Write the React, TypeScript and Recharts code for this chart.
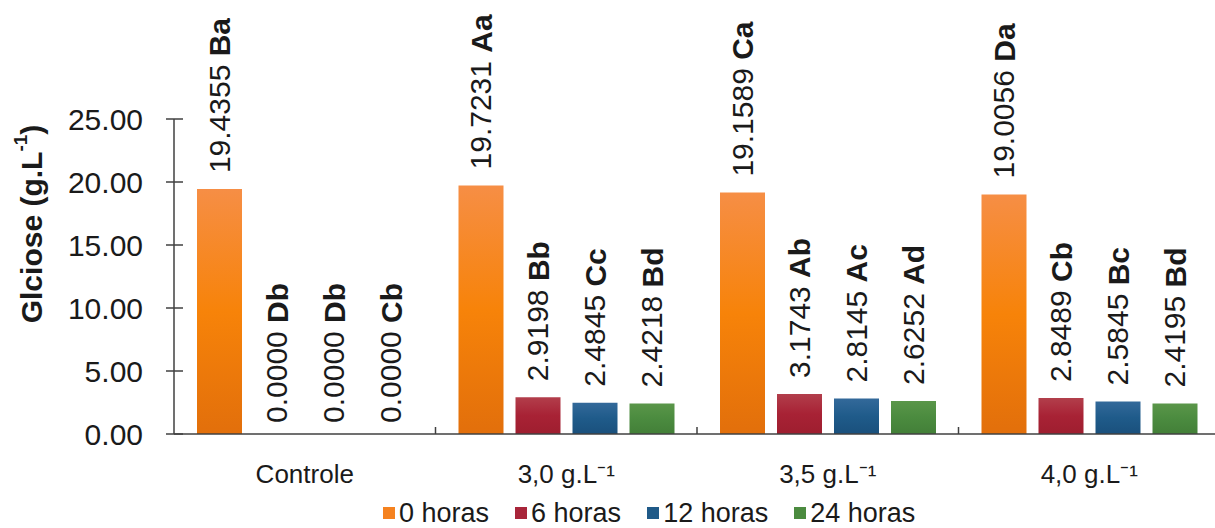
import React from 'react';
import { BarChart, Bar, XAxis, YAxis, Legend, LabelList, Cell } from 'recharts';

const categories = ['Controle', '3,0 g.L⁻¹', '3,5 g.L⁻¹', '4,0 g.L⁻¹'];
const horas0 = [19.4355, 19.7231, 19.1589, 19.0056];
const horas6 = [0, 2.9198, 3.1743, 2.8489];
const horas12 = [0, 2.4845, 2.8145, 2.5845];
const horas24 = [0, 2.4218, 2.6252, 2.4195];
const letras0 = ['Ba', 'Aa', 'Ca', 'Da'];
const letras6 = ['Db', 'Bb', 'Ab', 'Cb'];
const letras12 = ['Db', 'Cc', 'Ac', 'Bc'];
const letras24 = ['Cb', 'Bd', 'Ad', 'Bd'];
const yTicks = [0, 5, 10, 15, 20, 25];

const FONT = '"Liberation Sans", Arial, sans-serif';
const TEXT = '#1a1a1a';
const AXIS = '#404040';
const W = 1220;
const H = 528;
const Y_AXIS_W = 174;
const PLOT_W = W - Y_AXIS_W;

const series = [
  { key: 'h0', name: '0 horas', values: horas0, letters: letras0, fill: 'url(#gOrange)', swatch: '#F5821F' },
  { key: 'h6', name: '6 horas', values: horas6, letters: letras6, fill: 'url(#gRed)', swatch: '#A8253A' },
  { key: 'h12', name: '12 horas', values: horas12, letters: letras12, fill: 'url(#gBlue)', swatch: '#1F5A88' },
  { key: 'h24', name: '24 horas', values: horas24, letters: letras24, fill: 'url(#gGreen)', swatch: '#4B8B3F' },
];

const data = categories.map((name, i) => {
  const row: any = { name };
  series.forEach((s) => {
    row[s.key] = s.values[i];
    row[s.key + 'L'] = s.letters[i];
  });
  return row;
});

const BarLabel = (props: any) => {
  const { x, y, width, value } = props;
  const [v, letters] = value as [number, string];
  const cx = x + width / 2;
  const gap = v > 0 ? 16 : 10;
  const ty = y - gap;
  return (
    <text
      x={cx}
      y={ty}
      transform={`rotate(-90, ${cx}, ${ty})`}
      textAnchor="start"
      dominantBaseline="central"
      fontFamily={FONT}
      fontSize={30}
      fill={TEXT}
    >
      {Number(v).toFixed(4)} <tspan fontWeight="bold">{letters}</tspan>
    </text>
  );
};

const XTick = (props: any) => {
  const { x, y, payload, index } = props;
  const bw = PLOT_W / categories.length;
  const bx = x + bw / 2;
  return (
    <g>
      {index < categories.length - 1 && (
        <line x1={bx} x2={bx} y1={y} y2={y - 7} stroke={AXIS} strokeWidth={1.5} />
      )}
      <text x={x} y={y + 40} textAnchor="middle" dominantBaseline="central" fontFamily={FONT} fontSize={26} fill={TEXT}>
        {payload.value}
      </text>
    </g>
  );
};

const YTick = (props: any) => {
  const { x, y, payload } = props;
  const ax = x + 14;
  return (
    <g>
      <line x1={ax - 8} x2={ax + 9} y1={y} y2={y} stroke={AXIS} strokeWidth={1.5} />
      <text x={ax - 31} y={y} textAnchor="end" dominantBaseline="central" fontFamily={FONT} fontSize={30} fill={TEXT}>
        {Number(payload.value).toFixed(2)}
      </text>
    </g>
  );
};

const YLabel = () => (
  <text
    x={31}
    y={224}
    transform="rotate(-90, 31, 224)"
    textAnchor="middle"
    dominantBaseline="central"
    fontFamily={FONT}
    fontSize={30}
    fontWeight="bold"
    fill={TEXT}
  >
    Glciose (g.L<tspan fontSize={19} dy={-11}>-1</tspan>
    <tspan dy={11}>)</tspan>
  </text>
);

const LegendContent = () => (
  <div style={{ display: 'flex', height: 30, alignItems: 'center', fontFamily: FONT, fontSize: 27, color: TEXT }}>
    {series.map((s) => (
      <div key={s.key} style={{ display: 'flex', alignItems: 'center', marginRight: 26 }}>
        <span style={{ width: 12, height: 12, background: s.swatch, marginRight: 4, display: 'inline-block' }} />
        <span>{s.name}</span>
      </div>
    ))}
  </div>
);

export default function App() {
  return (
    <div style={{ position: 'absolute', left: 0, top: 0, width: 1215, height: H, overflow: 'hidden', background: '#fff' }}>
      <BarChart
        width={W}
        height={H}
        data={data}
        margin={{ top: 119, right: 0, bottom: 4, left: 0 }}
        barCategoryGap={23}
        barGap={12}
      >
        <defs>
          <linearGradient id="gOrange" x1="0" y1="0" x2="0" y2="1">
            <stop offset="0%" stopColor="#F68E45" />
            <stop offset="50%" stopColor="#F78309" />
            <stop offset="100%" stopColor="#E26F0B" />
          </linearGradient>
          <linearGradient id="gRed" x1="0" y1="0" x2="0" y2="1">
            <stop offset="0%" stopColor="#B23E4B" />
            <stop offset="50%" stopColor="#A82235" />
            <stop offset="100%" stopColor="#9E1E2F" />
          </linearGradient>
          <linearGradient id="gBlue" x1="0" y1="0" x2="0" y2="1">
            <stop offset="0%" stopColor="#33699A" />
            <stop offset="50%" stopColor="#1F5B8A" />
            <stop offset="100%" stopColor="#1A507C" />
          </linearGradient>
          <linearGradient id="gGreen" x1="0" y1="0" x2="0" y2="1">
            <stop offset="0%" stopColor="#5A9649" />
            <stop offset="50%" stopColor="#4B8B3F" />
            <stop offset="100%" stopColor="#437F38" />
          </linearGradient>
        </defs>
        <XAxis
          dataKey="name"
          height={60}
          tickSize={0}
          tickMargin={0}
          tickLine={false}
          axisLine={{ stroke: AXIS, strokeWidth: 1.5 }}
          tick={<XTick />}
          interval={0}
        />
        <YAxis
          width={Y_AXIS_W}
          domain={[0, 25]}
          ticks={yTicks}
          tickSize={8}
          tickMargin={6}
          tickLine={false}
          axisLine={{ stroke: AXIS, strokeWidth: 1.5 }}
          tick={<YTick />}
          label={<YLabel />}
        />
        <Legend
          verticalAlign="bottom"
          content={<LegendContent />}
          wrapperStyle={{ left: 383, width: 'auto', bottom: 0 }}
        />
        {series.map((s) => (
          <Bar
            key={s.key}
            dataKey={s.key}
            name={s.name}
            fill={s.fill}
            minPointSize={(v: number) => (v === 0 ? 1 : 0)}
            isAnimationActive={false}
          >
            {data.map((row, i) => (
              <Cell key={i} fillOpacity={row[s.key] === 0 ? 0 : 1} />
            ))}
            <LabelList dataKey={(d: any) => [d[s.key], d[s.key + 'L']]} content={<BarLabel />} />
          </Bar>
        ))}
      </BarChart>
    </div>
  );
}
